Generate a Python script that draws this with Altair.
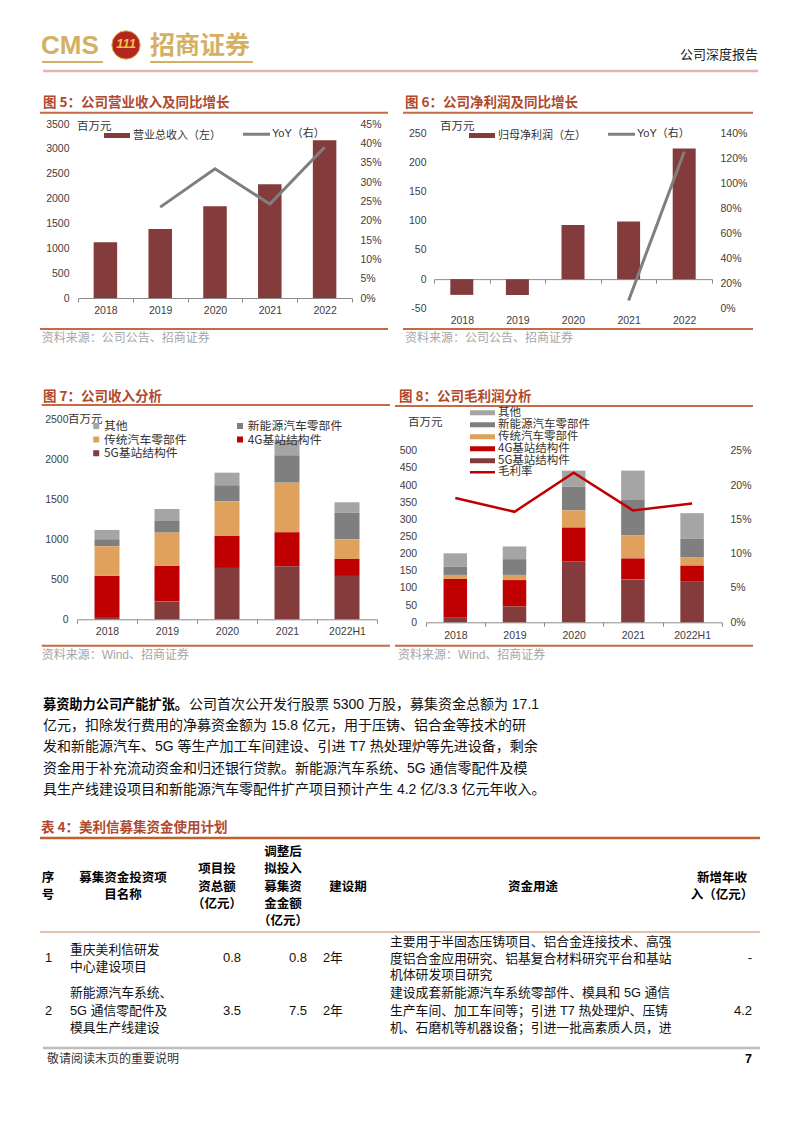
import altair as alt
import pandas as pd

W, H = 794, 1123
SANS = "Liberation Sans, Noto Sans CJK SC"
CJK = "Noto Sans CJK SC, Liberation Sans"

# ---------------- chart data ----------------
years = ["2018", "2019", "2020", "2021", "2022"]
revenue = [1120, 1387, 1847, 2287, 3173]
revenue_yoy_years = ["2019", "2020", "2021", "2022"]
revenue_yoy = [0.235, 0.334, 0.243, 0.390]
net_profit = [-27, -27, 92.6, 98.9, 224]
profit_yoy_years = ["2021", "2022"]
profit_yoy = [0.062, 1.253]

periods = ["2018", "2019", "2020", "2021", "2022H1"]
segments = ["其他", "新能源汽车零部件", "传统汽车零部件", "4G基站结构件", "5G基站结构件"]
segment_colors = ["#A5A5A5", "#7F7F7F", "#E0A15D", "#C00000", "#833C3B"]

rev_other = [117, 150, 158, 192, 130]
rev_nev = [88, 146, 200, 342, 333]
rev_auto = [370, 416, 433, 620, 246]
rev_4g = [513, 446, 400, 425, 212]
rev_5g = [29, 221, 642, 663, 542]

gp_other = [39, 37, 47, 84, 74]
gp_nev = [24, 46, 69, 104, 54]
gp_auto = [12, 15, 50, 68, 25]
gp_4g = [111, 77, 99, 61, 45]
gp_5g = [15, 46, 177, 125, 120]
gross_margin = [0.181, 0.161, 0.218, 0.163, 0.173]

rev_label = "营业总收入（左）"
np_label = "归母净利润（左）"
yoy_label = "YoY（右）"
gm_label = "毛利率"

# ---------------- styles ----------------
BAR_DARK = "#833C3B"
GRAY_LINE = "#7F7F7F"
RED = "#C00000"
TITLE_C = "#B0492E"
RULE_C = "#C46A45"
TXT_C = "#333333"
AX_TXT = "#404040"
AX_LINE = "#8C8C8C"


def band(domain, rng):
    return alt.Scale(type="band", domain=domain, range=rng, paddingInner=0, paddingOuter=0)


def point(domain, rng):
    return alt.Scale(type="point", domain=domain, range=rng, padding=0.5)


def lin(domain, rng):
    return alt.Scale(domain=domain, range=rng, nice=False, zero=False)


AX = dict(title=None, grid=False, labelFont="Liberation Sans", labelFontSize=10.5,
          labelColor=AX_TXT, labelOverlap=False)


def left_axis(x, values, pad=9):
    return alt.Axis(orient="left", offset=-x, values=values, domain=False, ticks=False,
                    labelPadding=pad, labelExpr="'' + datum.value", **AX)


def right_axis(x, values, pad=8):
    return alt.Axis(orient="right", offset=x - W, values=values, domain=False, ticks=False,
                    labelPadding=pad, labelExpr="round(datum.value*100) + '%'", **AX)


def bottom_axis(y, pad, labels=True, line=True):
    kw = dict(orient="bottom", offset=y - H, labelAngle=0, labelPadding=pad, labels=labels,
              domain=line, ticks=line)
    if line:
        kw.update(domainColor=AX_LINE, domainWidth=1, tickColor=AX_LINE, tickSize=4,
                  tickWidth=1, tickBand="extent")
    kw.update(AX)
    return alt.Axis(**kw)


def wide_legend(x, y, w, fs, font=CJK, lo=3, clip=12, rp=0):
    return alt.Legend(orient="none", legendX=x, legendY=y, title=None, direction="vertical",
                      symbolType="M-1,-0.2H1V0.2H-1Z", symbolSize=w * w, symbolStrokeWidth=0,
                      clipHeight=clip, rowPadding=rp, labelFont=font, labelFontSize=fs,
                      labelColor=TXT_C, labelOffset=lo, padding=0, labelLimit=300)


def line_legend(x, y, w, sw, fs, lo, clip=12):
    return alt.Legend(orient="none", legendX=x, legendY=y, title=None, direction="vertical",
                      symbolType="stroke", symbolSize=w * w, symbolStrokeWidth=sw,
                      clipHeight=clip, rowPadding=0, labelFont=SANS, labelFontSize=fs,
                      labelColor=TXT_C, labelOffset=lo, padding=0, labelLimit=300)


layers = []

# ---------------- Fig 5 ----------------
X5, Y5 = [78, 352], [298, 124]
df5 = pd.DataFrame({"year": years, "value": revenue, "series": [rev_label] * len(years)})
layers.append(
    alt.Chart(df5).mark_bar(size=23.5).encode(
        x=alt.X("year:N", scale=band(years, X5), axis=bottom_axis(298, 3)),
        y=alt.Y("value:Q", scale=lin([0, 3500], Y5), axis=left_axis(78, list(range(0, 3501, 500)))),
        fill=alt.Fill("series:N", scale=alt.Scale(domain=[rev_label], range=[BAR_DARK]),
                      legend=wide_legend(104, 129.5, 26, 11)),
    )
)
df5l = pd.DataFrame({"year": revenue_yoy_years, "yoy": revenue_yoy, "series": [yoy_label] * 4})
layers.append(
    alt.Chart(df5l).mark_line(strokeWidth=3).encode(
        x=alt.X("year:N", scale=point(years, X5), axis=None),
        y=alt.Y("yoy:Q", scale=lin([0, 0.45], Y5),
                axis=right_axis(352, [round(i * 0.05, 2) for i in range(10)])),
        stroke=alt.Stroke("series:N", scale=alt.Scale(domain=[yoy_label], range=[GRAY_LINE]),
                          legend=line_legend(241.5, 128.3, 27, 3, 11, 0.5)),
    )
)

# ---------------- Fig 6 ----------------
X6, Y6 = [434, 712], [308.3, 133.3]
zero6 = 308.3 - 50 * (175 / 300)
df6 = pd.DataFrame({"year": years, "value": net_profit, "series": [np_label] * len(years)})
layers.append(
    alt.Chart(df6).mark_bar(size=23).encode(
        x=alt.X("year:N", scale=band(years, X6), axis=bottom_axis(zero6, 3, labels=False)),
        y=alt.Y("value:Q", scale=lin([-50, 250], Y6), axis=left_axis(434, list(range(-50, 251, 50)), pad=8)),
        fill=alt.Fill("series:N", scale=alt.Scale(domain=[np_label], range=[BAR_DARK]),
                      legend=wide_legend(469, 129.5, 26, 11)),
    )
)
df6l = pd.DataFrame({"year": profit_yoy_years, "yoy": profit_yoy, "series": [yoy_label] * 2})
layers.append(
    alt.Chart(df6l).mark_line(strokeWidth=3).encode(
        x=alt.X("year:N", scale=point(years, X6), axis=bottom_axis(308.3, 7.1, line=False)),
        y=alt.Y("yoy:Q", scale=lin([0, 1.4], Y6),
                axis=right_axis(712, [round(i * 0.2, 1) for i in range(8)])),
        stroke=alt.Stroke("series:N", scale=alt.Scale(domain=[yoy_label], range=[GRAY_LINE]),
                          legend=line_legend(606.5, 128.3, 27, 3, 11, 0.5)),
    )
)


def stack_frame(values_by_segment):
    rows = []
    for seg, vals in zip(segments, values_by_segment):
        for p, v in zip(periods, vals):
            rows.append({"period": p, "segment": seg, "value": v,
                         "ord": len(segments) - 1 - segments.index(seg)})
    return pd.DataFrame(rows)


# ---------------- Fig 7 ----------------
X7, Y7 = [77, 377], [619.3, 419.3]
df7 = stack_frame([rev_other, rev_nev, rev_auto, rev_4g, rev_5g])
layers.append(
    alt.Chart(df7).mark_bar(size=25).encode(
        x=alt.X("period:N", scale=band(periods, X7), axis=bottom_axis(619.3, 2.8)),
        y=alt.Y("value:Q", stack="zero", scale=lin([0, 2500], Y7),
                axis=left_axis(77, list(range(0, 2501, 500)))),
        fill=alt.Fill("segment:N", scale=alt.Scale(domain=segments, range=segment_colors),
                      legend=alt.Legend(orient="none", legendX=87.8, legendY=420, title=None,
                                        direction="horizontal", columns=2, columnPadding=44.8,
                                        rowPadding=0.6, symbolType="square", symbolSize=36,
                                        symbolStrokeWidth=0, symbolOffset=2.5, labelOffset=1.9,
                                        clipHeight=12, labelFont=CJK, labelFontSize=11.8,
                                        labelColor=TXT_C, padding=0, labelLimit=300)),
        order=alt.Order("ord:Q", sort="ascending"),
    )
)

# ---------------- Fig 8 ----------------
X8, Y8 = [425.7, 721.7], [622.3, 450.7]
df8 = stack_frame([gp_other, gp_nev, gp_auto, gp_4g, gp_5g])
layers.append(
    alt.Chart(df8).mark_bar(size=23.5).encode(
        x=alt.X("period:N", scale=band(periods, X8), axis=bottom_axis(622.3, 4.1)),
        y=alt.Y("value:Q", stack="zero", scale=lin([0, 500], Y8),
                axis=left_axis(425.7, list(range(0, 501, 50)))),
        fill=alt.Fill("segment:N", scale=alt.Scale(domain=segments, range=segment_colors),
                      legend=wide_legend(470, 406.8, 25, 11.5, lo=3, clip=11.8, rp=-1.3)),
        order=alt.Order("ord:Q", sort="ascending"),
    )
)
df8l = pd.DataFrame({"period": periods, "gm": gross_margin, "series": [gm_label] * 5})
layers.append(
    alt.Chart(df8l).mark_line(strokeWidth=2.5).encode(
        x=alt.X("period:N", scale=point(periods, X8), axis=None),
        y=alt.Y("gm:Q", scale=lin([0, 0.25], Y8),
                axis=right_axis(721.7, [round(i * 0.05, 2) for i in range(6)], pad=8.3)),
        stroke=alt.Stroke("series:N", scale=alt.Scale(domain=[gm_label], range=[RED]),
                          legend=line_legend(468.5, 466.3, 25, 2.5, 11.5, 1.5, clip=11.8)),
    )
)


# ---------------- page furniture ----------------
def texts(rows, size, color=TXT_C, weight="normal", align="left", font=CJK, style="normal"):
    df = pd.DataFrame(rows, columns=["x", "y", "t"])
    return alt.Chart(df).mark_text(align=align, baseline="middle", fontSize=size, font=font,
                                   fontWeight=weight, color=color, fontStyle=style).encode(
        x=alt.X("x:Q", scale=None, axis=None),
        y=alt.Y("y:Q", scale=None, axis=None),
        text="t:N",
    )


def rules(rows, color, width):
    df = pd.DataFrame(rows, columns=["x", "x2", "y"])
    return alt.Chart(df).mark_rule(color=color, strokeWidth=width).encode(
        x=alt.X("x:Q", scale=None, axis=None),
        x2="x2:Q",
        y=alt.Y("y:Q", scale=None, axis=None),
    )


GOLD = "#D4B064"
# header
layers.append(rules([(43, 758, 71)], "#E5B4AC", 2.5))
layers.append(rules([(42, 103, 62), (150, 253, 62)], GOLD, 2))
layers.append(texts([(41, 46, "CMS")], 26, GOLD, "bold", font="Liberation Sans"))
layers.append(texts([(150, 46, "招商证券")], 25, GOLD, "bold"))
layers.append(
    alt.Chart(pd.DataFrame({"k": [0]})).mark_circle(size=800, color="#B3261E", opacity=1,
                                                     stroke="#E0B050", strokeWidth=1).encode(
        x=alt.value(126), y=alt.value(45))
)
layers.append(texts([(126, 44, "111")], 13, "#F2C14E", "bold", align="center",
                    font="Liberation Sans", style="italic"))
layers.append(texts([(758, 55, "公司深度报告")], 13, "#222222", align="right"))

# figure titles and rules
layers.append(texts([(43, 103, "图 5：公司营业收入及同比增长"), (405, 103, "图 6：公司净利润及同比增长"),
                     (43, 397, "图 7：公司收入分析"), (399, 397, "图 8：公司毛利润分析"),
                     (41, 828, "表 4：美利信募集资金使用计划")], 13.5, TITLE_C, "bold"))
layers.append(rules([(40, 388, 112.7), (403, 753, 112.7), (41.7, 390, 405), (395, 753, 406),
                     (40, 388, 329), (403, 753, 329), (41.7, 390, 645.7), (395, 753, 645.7)],
                    RULE_C, 2))
layers.append(texts([(41.7, 338, "资料来源：公司公告、招商证券"), (405, 338, "资料来源：公司公告、招商证券"),
                     (41.7, 655, "资料来源：Wind、招商证券"), (398, 655, "资料来源：Wind、招商证券")],
                    12, "#A6A6A6", font=SANS))
layers.append(texts([(77, 127, "百万元"), (440, 127, "百万元"), (68, 419.5, "百万元"),
                     (408, 423.3, "百万元")], 11.5, TXT_C))

# paragraph
para_bold = "募资助力公司产能扩张。"
para_lines = [
    "公司首次公开发行股票 5300 万股，募集资金总额为 17.1",
    "亿元，扣除发行费用的净募资金额为 15.8 亿元，用于压铸、铝合金等技术的研",
    "发和新能源汽车、5G 等生产加工车间建设、引进 T7 热处理炉等先进设备，剩余",
    "资金用于补充流动资金和归还银行贷款。新能源汽车系统、5G 通信零配件及模",
    "具生产线建设项目和新能源汽车零配件扩产项目预计产生 4.2 亿/3.3 亿元年收入。",
]
para_y = [705, 726.2, 747.4, 768.6, 789.8]
para_x = [189, 43, 43, 43, 43]
layers.append(texts([(43, para_y[0], para_bold)], 13.2, "#000000", "bold"))
layers.append(texts(list(zip(para_x, para_y, para_lines)), 14, "#111111", font=SANS))

# table
layers.append(rules([(40, 760, 838)], "#C0602F", 2.5))
layers.append(rules([(40, 760, 932)], "#C8805F", 1.2))
layers.append(rules([(43, 760, 1048)], "#BDBDBD", 2.5))
header_cells = [
    (48, 878, "序"), (48, 895, "号"),
    (123, 878, "募集资金投资项"), (123, 895, "目名称"),
    (217, 869, "项目投"), (217, 886.5, "资总额"), (217, 903.5, "（亿元）"),
    (283, 852, "调整后"), (283, 869, "拟投入"), (283, 886.5, "募集资"), (283, 904, "金金额"),
    (283, 921, "（亿元）"),
    (348, 887, "建设期"), (533, 887, "资金用途"),
    (722, 878, "新增年收"), (722, 895, "入（亿元）"),
]
layers.append(texts(header_cells, 12.5, "#000000", "bold", align="center"))

row_no = ["1", "2"]
row_names = [["重庆美利信研发", "中心建设项目"], ["新能源汽车系统、", "5G 通信零配件及", "模具生产线建设"]]
row_invest = ["0.8", "3.5"]
row_raised = ["0.8", "7.5"]
row_period = ["2年", "2年"]
row_uses = [
    ["主要用于半固态压铸项目、铝合金连接技术、高强", "度铝合金应用研究、铝基复合材料研究平台和基站", "机体研发项目研究"],
    ["建设成套新能源汽车系统零部件、模具和 5G 通信", "生产车间、加工车间等；引进 T7 热处理炉、压铸",
     "机、石磨机等机器设备；引进一批高素质人员，进"],
]
row_revenue = ["-", "4.2"]
row_mid = [958, 1011]
name_y = [[950, 967], [993, 1011, 1028]]
use_y = [[942, 958.5, 975], [993, 1011, 1028]]

body_left = []
for i in range(2):
    body_left.append((45, row_mid[i], row_no[i]))
    body_left.append((323, row_mid[i], row_period[i]))
    for y, t in zip(name_y[i], row_names[i]):
        body_left.append((70, y, t))
    for y, t in zip(use_y[i], row_uses[i]):
        body_left.append((390, y, t))
layers.append(texts(body_left, 12.8, "#111111", font=SANS))
body_right = []
for i in range(2):
    body_right += [(241, row_mid[i], row_invest[i]), (307, row_mid[i], row_raised[i]),
                   (752, row_mid[i], row_revenue[i])]
layers.append(texts(body_right, 13, "#111111", align="right", font=SANS))

# footer
layers.append(texts([(47, 1059, "敬请阅读末页的重要说明")], 12, TXT_C))
layers.append(texts([(752, 1059, "7")], 12.5, "#000000", "bold", align="right", font="Liberation Sans"))

chart = alt.layer(*layers).resolve_scale(
    x="independent", y="independent", fill="independent", stroke="independent"
).properties(width=W, height=H, padding=0, autosize="none").configure_view(stroke=None)

chart.save("out.html", embed_options={"renderer": "svg", "actions": False})
